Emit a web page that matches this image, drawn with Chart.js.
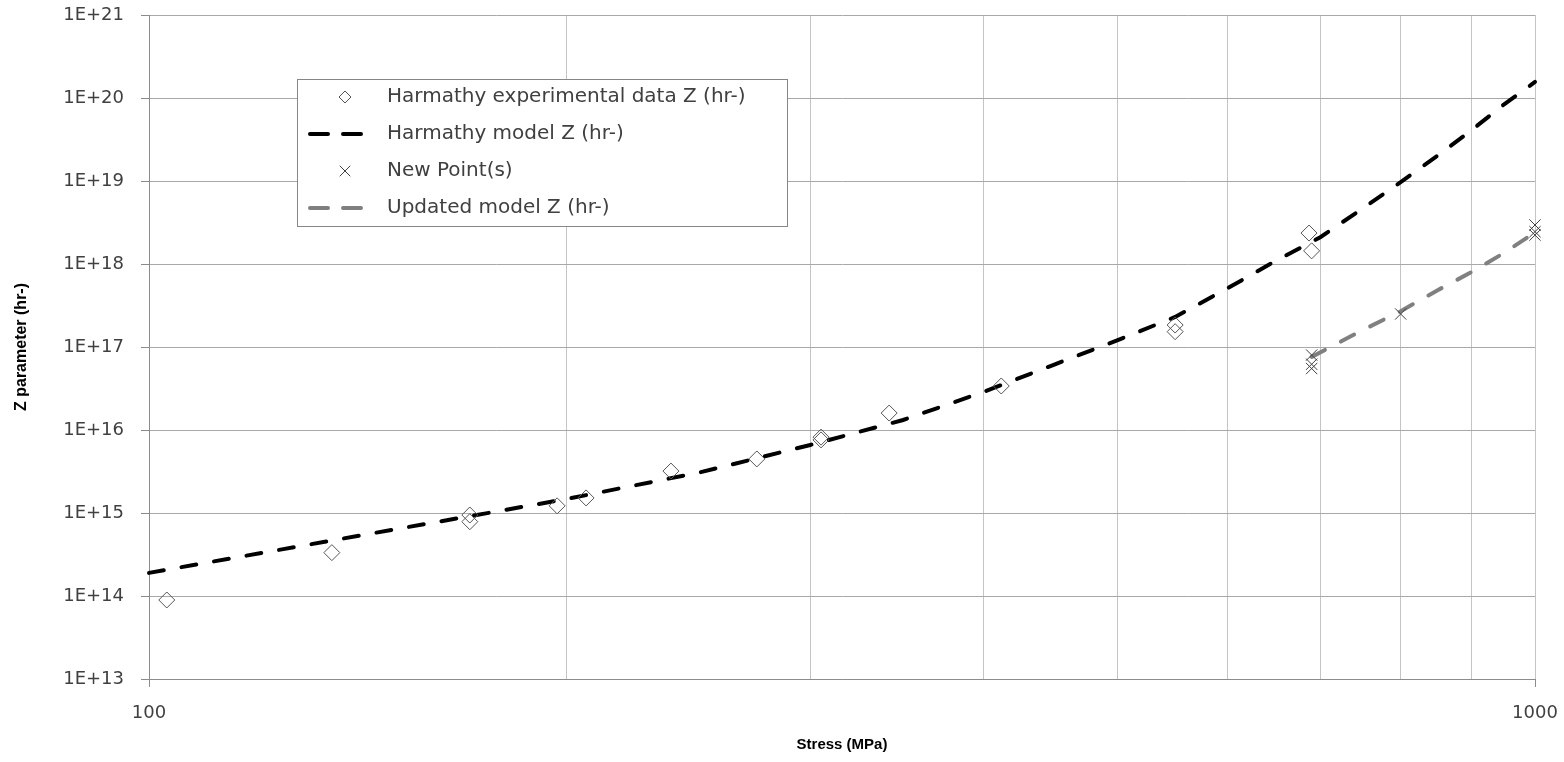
<!DOCTYPE html>
<html>
<head>
<meta charset="utf-8">
<title>Z parameter vs Stress</title>
<script src="https://cdn.jsdelivr.net/npm/chart.js@4.4.0/dist/chart.umd.min.js"></script>
<style>
    html, body { margin: 0; padding: 0; background: #fff; }
</style>
</head>
<body>
<canvas id="zChart" width="1564" height="762"></canvas>
<script>
// Harmathy experimental data (stress in MPa, Z in hr-)
const expStress = [103, 135.5, 170.4, 170.4, 197, 206.7, 238, 274.5, 305.4, 305.4, 342, 412, 550, 550, 687, 690];
const expZ = [8.95e13, 3.33e14, 9.46e14, 7.85e14, 1.22e15, 1.52e15, 3.2e15, 4.48e15, 8.2e15, 7.6e15, 1.6e16, 3.39e16, 1.84e17, 1.53e17, 2.36e18, 1.44e18];

// Harmathy model curve
const modelStress = [100, 125, 150, 175, 200, 250, 300, 350, 400, 450, 500, 550, 600, 650, 700, 750, 800, 850, 900, 950, 1000];
const modelZ = [1.9e14, 3.67e14, 6.3e14, 9.9e14, 1.47e15, 3.1e15, 6.6e15, 1.32e16, 2.87e16, 6.15e16, 1.21e17, 2.3e17, 5.1e17, 1.09e18, 2.1e18, 4.6e18, 9.7e18, 2.0e19, 4.1e19, 8.4e19, 1.56e20];

// New points
const newStress = [690, 690, 690, 800, 1000, 1000, 1000];
const newZ = [8.0e16, 6.2e16, 5.5e16, 2.5e17, 2.95e18, 2.45e18, 2.23e18];

// Updated model curve
const updStress = [690, 750, 800, 850, 900, 950, 1000];
const updZ = [7.6e16, 1.58e17, 2.7e17, 4.8e17, 8.0e17, 1.36e18, 2.4e18];

// Axes
const xTickValues = [100, 200, 300, 400, 500, 600, 700, 800, 900, 1000];
const xTickLabels = ['100', '', '', '', '', '', '', '', '', '1000'];
const yTickValues = [1e13, 1e14, 1e15, 1e16, 1e17, 1e18, 1e19, 1e20, 1e21];
const yTickLabels = ['1E+13', '1E+14', '1E+15', '1E+16', '1E+17', '1E+18', '1E+19', '1E+20', '1E+21'];

const seriesNames = ['Harmathy experimental data Z (hr-)', 'Harmathy model Z (hr-)', 'New Point(s)', 'Updated model Z (hr-)'];

function toPoints(xs, ys) {
    return xs.map((x, i) => ({ x: x, y: ys[i] }));
}

// legend drawn inside the plot, like the original
const boxLegend = {
    id: 'boxLegend',
    afterDraw(chart) {
        const ctx = chart.ctx;
        ctx.save();
        ctx.fillStyle = '#ffffff';
        ctx.strokeStyle = '#868686';
        ctx.lineWidth = 1;
        ctx.fillRect(297.5, 79.5, 490, 147);
        ctx.strokeRect(297.5, 79.5, 490, 147);

        chart.data.datasets.forEach((ds, i) => {
            const y = 97 + i * 37;
            const cx = 345;
            if (ds.showLine) {
                ctx.setLineDash([18, 15]);
                ctx.lineCap = 'round';
                ctx.lineWidth = ds.borderWidth;
                ctx.strokeStyle = ds.borderColor;
                ctx.beginPath();
                ctx.moveTo(310, y);
                ctx.lineTo(362, y);
                ctx.stroke();
                ctx.setLineDash([]);
            } else if (ds.pointStyle === 'rectRot') {
                ctx.lineWidth = 1;
                ctx.strokeStyle = ds.borderColor;
                ctx.beginPath();
                ctx.moveTo(cx, y - 6);
                ctx.lineTo(cx + 6, y);
                ctx.lineTo(cx, y + 6);
                ctx.lineTo(cx - 6, y);
                ctx.closePath();
                ctx.stroke();
            } else {
                ctx.lineWidth = 1;
                ctx.strokeStyle = ds.borderColor;
                ctx.beginPath();
                ctx.moveTo(cx - 5, y - 5); ctx.lineTo(cx + 5, y + 5);
                ctx.moveTo(cx + 5, y - 5); ctx.lineTo(cx - 5, y + 5);
                ctx.stroke();
            }
            ctx.fillStyle = '#404040';
            ctx.font = '20px "DejaVu Sans"';
            ctx.textAlign = 'left';
            ctx.textBaseline = 'middle';
            ctx.fillText(ds.label, 387, y);
        });
        ctx.restore();
    }
};

const ctx = document.getElementById('zChart').getContext('2d');
new Chart(ctx, {
    type: 'scatter',
    data: {
        datasets: [{
            label: seriesNames[0],
            data: toPoints(expStress, expZ),
            pointStyle: 'rectRot',
            pointRadius: 8,
            pointHoverRadius: 8,
            backgroundColor: 'rgba(255,255,255,0)',
            borderColor: '#555555',
            borderWidth: 1,
            showLine: false,
            clip: false
        }, {
            label: seriesNames[1],
            data: toPoints(modelStress, modelZ),
            showLine: true,
            pointRadius: 0,
            borderColor: '#000000',
            borderWidth: 4,
            borderDash: [15, 18],
            borderCapStyle: 'round',
            tension: 0,
            clip: false
        }, {
            label: seriesNames[2],
            data: toPoints(newStress, newZ),
            pointStyle: 'crossRot',
            pointRadius: 8,
            pointHoverRadius: 8,
            borderColor: '#404040',
            borderWidth: 1,
            showLine: false,
            clip: false
        }, {
            label: seriesNames[3],
            data: toPoints(updStress, updZ),
            showLine: true,
            pointRadius: 0,
            borderColor: '#808080',
            borderWidth: 4,
            borderDash: [15, 18],
            borderCapStyle: 'round',
            tension: 0,
            clip: false
        }]
    },
    options: {
        responsive: false,
        animation: false,
        layout: {
            padding: { left: 0, top: 15, right: 29, bottom: 0 }
        },
        plugins: {
            legend: { display: false },
            tooltip: { enabled: false }
        },
        scales: {
            x: {
                type: 'logarithmic',
                min: 100,
                max: 1000,
                afterBuildTicks: function(scale) {
                    scale.ticks = xTickValues.map(v => ({ value: v }));
                },
                afterFit: function(scale) {
                    scale.height = 83;
                    scale.paddingLeft = 0;
                    scale.paddingRight = 0;
                },
                ticks: {
                    autoSkip: false,
                    maxRotation: 0,
                    padding: 16,
                    color: '#404040',
                    font: { family: 'DejaVu Sans', size: 18 },
                    callback: function(value, index) {
                        return xTickLabels[index];
                    }
                },
                grid: {
                    color: '#c4c4c4',
                    lineWidth: 1,
                    tickLength: 8,
                    tickColor: function(c) {
                        const v = c.tick ? c.tick.value : null;
                        return (v === 100 || v === 1000) ? '#8c8c8c' : 'rgba(0,0,0,0)';
                    }
                },
                border: { color: '#8c8c8c', width: 1 },
                title: {
                    display: true,
                    text: 'Stress (MPa)',
                    color: '#000000',
                    font: { family: 'Liberation Sans', size: 15, weight: 'bold' },
                    padding: { top: 0, bottom: 8 }
                }
            },
            y: {
                type: 'logarithmic',
                min: 1e13,
                max: 1e21,
                afterBuildTicks: function(scale) {
                    scale.ticks = yTickValues.map(v => ({ value: v }));
                },
                afterFit: function(scale) {
                    scale.width = 149;
                    scale.paddingTop = 0;
                    scale.paddingBottom = 0;
                },
                ticks: {
                    autoSkip: false,
                    padding: 17,
                    color: '#404040',
                    font: { family: 'DejaVu Sans', size: 18 },
                    callback: function(value, index) {
                        return yTickLabels[index];
                    }
                },
                grid: {
                    color: '#a8a8a8',
                    lineWidth: 1,
                    tickLength: 8,
                    tickColor: '#8c8c8c'
                },
                border: { color: '#8c8c8c', width: 1 },
                title: {
                    display: true,
                    text: 'Z parameter (hr-)',
                    color: '#000000',
                    font: { family: 'Liberation Sans', size: 16, weight: 'bold' },
                    padding: { top: 12, bottom: 0 }
                }
            }
        }
    },
    plugins: [boxLegend]
});
</script>
</body>
</html>
